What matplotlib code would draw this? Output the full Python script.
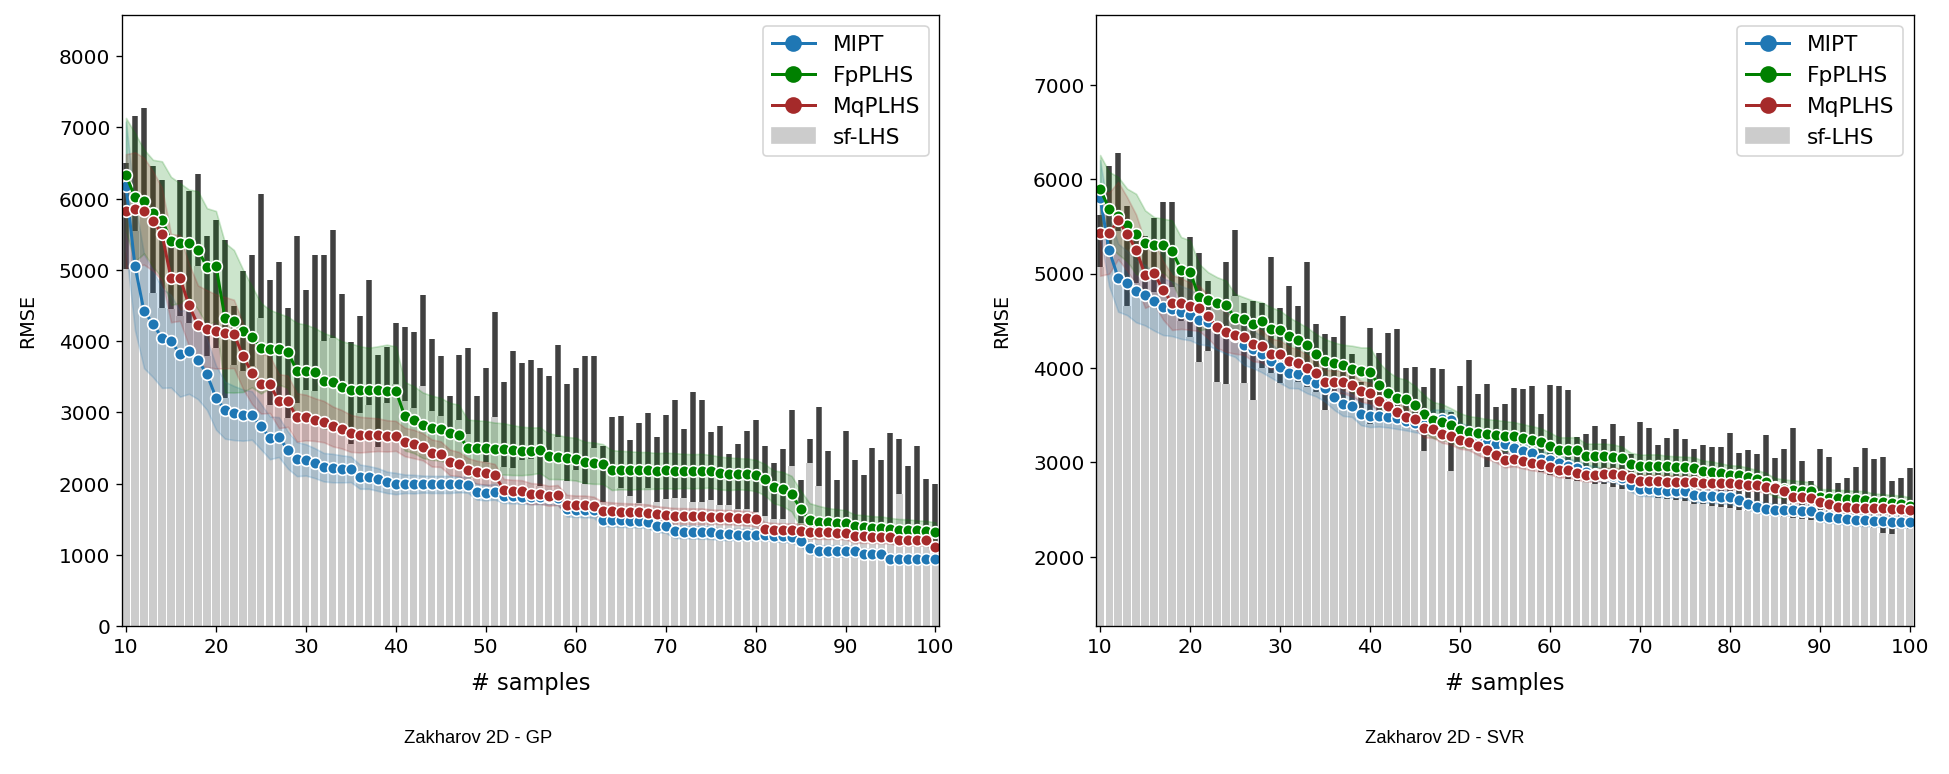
import numpy as np
import matplotlib.pyplot as plt
from matplotlib.lines import Line2D
from matplotlib.patches import Patch

samples = np.arange(10, 101)

# ---------------- Zakharov 2D - GP ----------------
gp_mipt = [6180, 5053, 4423, 4246, 4045, 4000, 3822, 3862, 3737, 3536, 3210, 3033, 2993, 2964, 2958, 2804,
           2644, 2655, 2472, 2346, 2335, 2289, 2232, 2220, 2209, 2203, 2100, 2089, 2060, 2020, 2003,
           2000, 1995, 1995, 1990, 1990, 1990, 1990, 1985, 1888, 1877, 1888, 1830, 1825, 1820, 1815,
           1815, 1810, 1805, 1640, 1635, 1630, 1625, 1495, 1490, 1485, 1480, 1475, 1470, 1410, 1402,
           1330, 1325, 1320, 1318, 1316, 1290, 1288, 1287, 1287, 1287, 1287, 1270, 1260, 1255, 1200,
           1099, 1060, 1058, 1058, 1056, 1055, 1020, 1018, 1015, 945, 944, 944, 944, 944, 944]
gp_fp = [6334, 6020, 5962, 5796, 5705, 5407, 5379, 5379, 5276, 5047, 5058, 4332, 4280, 4148, 4063, 3902,
         3891, 3891, 3845, 3588, 3588, 3571, 3445, 3422, 3359, 3319, 3319, 3319, 3319, 3307, 3307,
         2947, 2901, 2821, 2787, 2764, 2707, 2689, 2500, 2500, 2500, 2489, 2489, 2472, 2460, 2460,
         2472, 2386, 2375, 2357, 2346, 2300, 2289, 2277, 2192, 2192, 2186, 2186, 2186, 2180, 2186,
         2180, 2180, 2175, 2180, 2175, 2150, 2140, 2140, 2135, 2117, 2060, 1957, 1928, 1860, 1648,
         1488, 1470, 1460, 1455, 1450, 1400, 1390, 1385, 1380, 1370, 1355, 1350, 1345, 1340, 1316]
gp_mq = [5825, 5853, 5825, 5688, 5505, 4887, 4887, 4509, 4223, 4177, 4137, 4120, 4103, 3794, 3559, 3405,
         3393, 3159, 3159, 2930, 2930, 2901, 2872, 2804, 2764, 2707, 2689, 2689, 2689, 2672, 2672,
         2586, 2558, 2518, 2432, 2415, 2300, 2277, 2192, 2163, 2146, 2117, 1917, 1905, 1900, 1860,
         1860, 1831, 1842, 1705, 1705, 1705, 1688, 1619, 1619, 1610, 1605, 1600, 1590, 1575, 1562,
         1550, 1548, 1545, 1545, 1540, 1535, 1530, 1525, 1515, 1500, 1362, 1350, 1345, 1345, 1340,
         1320, 1316, 1316, 1315, 1310, 1262, 1260, 1258, 1255, 1250, 1215, 1213, 1212, 1210, 1116]
gp_mipt_ci = [900, 900, 800, 750, 700, 650, 600, 600, 550, 500, 450, 400, 380, 360, 340, 320,
              300, 280, 260, 240, 220, 210, 200, 200, 190, 180, 170, 160, 160, 150, 150,
              130, 130, 120, 120, 120, 120, 110, 110, 110, 110, 110, 100, 100, 100, 100,
              100, 100, 100, 100, 100, 100, 100, 90, 90, 90, 90, 90, 90, 90, 90,
              90, 90, 90, 90, 90, 80, 80, 80, 80, 80, 80, 80, 80, 80, 80,
              80, 80, 80, 80, 80, 70, 70, 70, 70, 70, 70, 70, 70, 70, 70]
gp_fp_ci = [800, 900, 730, 750, 820, 900, 840, 750, 830, 820, 770, 1050, 1000, 860, 710, 635,
            550, 500, 500, 670, 645, 615, 670, 650, 640, 650, 610, 590, 610, 645, 620,
            480, 470, 460, 450, 440, 430, 420, 400, 390, 380, 370, 360, 350, 340, 330,
            320, 320, 310, 300, 300, 290, 290, 280, 280, 270, 270, 260, 260, 250, 250,
            250, 240, 240, 240, 230, 230, 230, 220, 220, 220, 220, 230, 240, 250, 260,
            240, 220, 200, 190, 180, 170, 170, 160, 160, 150, 150, 150, 140, 140, 140]
gp_mq_ci = [800, 800, 750, 700, 650, 620, 600, 580, 560, 540, 520, 500, 480, 460, 440, 420,
            400, 380, 360, 340, 320, 300, 290, 280, 270, 260, 250, 240, 230, 220, 210,
            200, 200, 190, 190, 180, 180, 170, 170, 160, 160, 160, 150, 150, 150, 150,
            140, 140, 140, 140, 130, 130, 130, 130, 120, 120, 120, 120, 120, 110, 110,
            110, 110, 110, 110, 100, 100, 100, 100, 100, 100, 100, 100, 100, 100, 100,
            90, 90, 90, 90, 90, 90, 90, 90, 90, 90, 80, 80, 80, 80, 80]
gp_sf_mean = [5020, 5550, 5850, 4677, 4467, 4450, 4350, 4256, 5052, 3789, 3906, 3200, 3670, 3576, 3650,
              4330, 3101, 3100, 2918, 3134, 3320, 3300, 4000, 4040, 3300, 2563, 2990, 3100, 2518,
              3134, 3400, 3157, 3062, 3366, 3026, 2950, 2700, 2900, 2700, 2450, 2300, 2940, 2232,
              2220, 2329, 2350, 1974, 2300, 2649, 2043, 2192, 1991, 2506, 1745, 2150, 1934, 1831,
              1728, 1934, 1745, 1791, 1800, 1802, 1750, 1750, 1774, 1700, 1700, 1650, 1650, 1600,
              1550, 1500, 1500, 2255, 1450, 2290, 1963, 1400, 1400, 1350, 1350, 1300, 1300, 1300,
              1250, 1860, 1250, 1200, 1200, 1150]
gp_sf_top = [6500, 7160, 7270, 6464, 6268, 5350, 6259, 6104, 6348, 5482, 5707, 5420, 4490, 4980, 5215,
             6060, 4853, 5118, 4460, 5473, 4725, 5210, 5215, 5555, 4665, 3985, 4355, 4855, 3810,
             3915, 4250, 4195, 4125, 4653, 4030, 3795, 3227, 3808, 3903, 3230, 3623, 4413, 3432,
             3860, 3690, 3740, 3622, 3508, 3950, 3402, 3623, 3788, 3788, 2527, 2933, 2946, 2617,
             2848, 2990, 2652, 2960, 3181, 2769, 3284, 3172, 2727, 2807, 2423, 2559, 2736, 2891,
             2526, 2292, 2489, 3041, 2048, 2621, 3078, 2456, 2048, 2735, 2330, 2117, 2505, 2330,
             2706, 2630, 2247, 2528, 2060, 1991]

# ---------------- Zakharov 2D - SVR ----------------
svr_mipt = [5801, 5247, 4957, 4900, 4814, 4771, 4706, 4649, 4628, 4589, 4563, 4511, 4489, 4433, 4381, 4338,
            4242, 4199, 4143, 4078, 4013, 3948, 3935, 3883, 3840, 3784, 3688, 3623, 3602, 3515, 3494,
            3490, 3480, 3465, 3440, 3420, 3400, 3460, 3460, 3450, 3330, 3300, 3250, 3200, 3190, 3190,
            3150, 3120, 3100, 3040, 3020, 2990, 2960, 2940, 2900, 2880, 2870, 2860, 2830, 2760, 2714,
            2714, 2705, 2700, 2695, 2692, 2650, 2645, 2640, 2635, 2628, 2606, 2563, 2528, 2511, 2500,
            2498, 2495, 2490, 2485, 2433, 2420, 2410, 2400, 2390, 2385, 2380, 2375, 2370, 2368, 2368]
svr_fp = [5896, 5688, 5615, 5515, 5420, 5320, 5299, 5299, 5238, 5043, 5022, 4749, 4719, 4693, 4662, 4533,
          4524, 4468, 4498, 4416, 4403, 4338, 4294, 4242, 4143, 4078, 4056, 4035, 3991, 3970, 3957,
          3818, 3732, 3680, 3667, 3610, 3515, 3450, 3429, 3394, 3342, 3320, 3307, 3299, 3290, 3277,
          3277, 3255, 3234, 3212, 3177, 3126, 3126, 3126, 3069, 3069, 3069, 3061, 3048, 2983, 2961,
          2965, 2965, 2960, 2955, 2950, 2945, 2910, 2900, 2890, 2870, 2866, 2845, 2820, 2790, 2736,
          2720, 2710, 2700, 2692, 2628, 2625, 2620, 2615, 2610, 2606, 2580, 2575, 2565, 2560, 2541]
svr_mq = [5428, 5428, 5563, 5420, 5255, 4987, 5009, 4823, 4693, 4684, 4654, 4632, 4546, 4433, 4381, 4351,
          4329, 4251, 4229, 4151, 4143, 4078, 4056, 4000, 3948, 3853, 3853, 3853, 3818, 3753, 3732,
          3645, 3593, 3537, 3480, 3463, 3364, 3351, 3299, 3277, 3234, 3221, 3169, 3126, 3082, 3026,
          3039, 3017, 2996, 2983, 2952, 2922, 2922, 2887, 2866, 2866, 2874, 2874, 2866, 2831, 2801,
          2800, 2798, 2795, 2792, 2790, 2788, 2785, 2783, 2780, 2780, 2775, 2765, 2757, 2736, 2727,
          2701, 2628, 2628, 2625, 2584, 2554, 2528, 2525, 2520, 2518, 2515, 2513, 2511, 2511, 2498]
svr_mipt_ci = [400, 380, 360, 340, 330, 320, 310, 300, 290, 280, 270, 260, 250, 240, 230, 220,
               210, 200, 190, 180, 170, 160, 150, 150, 140, 140, 130, 130, 120, 120, 120,
               110, 110, 110, 100, 100, 100, 100, 100, 100, 90, 90, 90, 90, 90, 90,
               90, 80, 80, 80, 80, 80, 80, 80, 80, 80, 70, 70, 70, 70, 70,
               70, 70, 70, 70, 70, 70, 70, 70, 70, 70, 70, 60, 60, 60, 60,
               60, 60, 60, 60, 60, 60, 60, 60, 60, 60, 60, 60, 60, 60, 60]
svr_fp_ci = [360, 390, 410, 385, 425, 350, 300, 283, 326, 344, 330, 354, 296, 269, 264, 252,
             225, 246, 198, 227, 205, 199, 190, 188, 217, 229, 215, 211, 245, 248, 260,
             240, 230, 220, 210, 200, 200, 190, 190, 180, 180, 170, 170, 160, 160, 160,
             150, 150, 150, 150, 140, 140, 140, 140, 130, 130, 130, 130, 120, 120, 120,
             120, 120, 110, 110, 110, 110, 110, 110, 100, 100, 100, 100, 100, 100, 100,
             100, 100, 100, 100, 90, 90, 90, 90, 90, 90, 90, 90, 90, 90, 90]
svr_mq_ci = [450, 430, 410, 390, 370, 350, 330, 310, 290, 270, 250, 240, 230, 220, 210, 200,
             190, 180, 170, 160, 150, 150, 140, 140, 130, 130, 120, 120, 120, 110, 110,
             110, 100, 100, 100, 100, 100, 90, 90, 90, 90, 90, 90, 90, 80, 80,
             80, 80, 80, 80, 80, 80, 80, 70, 70, 70, 70, 70, 70, 70, 70,
             70, 70, 70, 70, 70, 70, 70, 70, 70, 70, 60, 60, 60, 60, 60,
             60, 60, 60, 60, 60, 60, 60, 60, 60, 60, 60, 60, 60, 60, 60]
svr_sf_mean = [5075, 5300, 5450, 4655, 4900, 4800, 4800, 4855, 4855, 4500, 4330, 4068, 4175, 3852, 3835,
               4762, 3838, 3658, 4000, 3950, 3838, 3900, 3850, 3800, 3750, 3560, 3650, 3600, 3550,
               3500, 3410, 3500, 3550, 3500, 3450, 3400, 3116, 3300, 3300, 2909, 3250, 3200, 3150,
               2952, 3050, 3000, 2980, 2950, 2930, 2900, 2870, 2850, 2820, 2800, 2790, 2770, 2766,
               2740, 2720, 2700, 2650, 2640, 2620, 2610, 2600, 2590, 2560, 2560, 2540, 2530, 2520,
               2500, 2480, 2460, 2450, 2430, 2420, 2410, 2400, 2390, 2370, 2360, 2350, 2340, 2330,
               2320, 2300, 2250, 2240, 2300, 2290]
svr_sf_top = [5617, 6135, 6273, 5712, 5400, 5400, 5590, 5760, 5760, 5050, 5390, 5215, 4920, 4500, 5128,
              5467, 4685, 4710, 4685, 5180, 4640, 4873, 4657, 5125, 4462, 4365, 4333, 4548, 4144,
              3850, 4425, 4163, 4366, 4414, 4003, 4007, 3795, 3999, 3990, 3536, 3804, 4089, 3722,
              3826, 3591, 3623, 3793, 3782, 3810, 3517, 3818, 3810, 3772, 3272, 3300, 3382, 3247,
              3407, 3279, 3092, 3428, 3368, 3184, 3254, 3350, 3244, 3138, 3184, 3166, 3166, 3307,
              3099, 3127, 3092, 3293, 3045, 3141, 3368, 3017, 2800, 3141, 3060, 2779, 2831, 2953,
              3148, 3038, 3060, 2800, 2831, 2943]

series_names = ["MIPT", "FpPLHS", "MqPLHS"]
series_colors = ["#1f77b4", "green", "brown"]

plt.rcParams["font.family"] = "DejaVu Sans"

fig = plt.figure(figsize=(1949.4 / 120, 774.4 / 120), dpi=120)
ax1 = fig.add_axes([0.0626, 0.1908, 0.4193, 0.7889])
ax2 = fig.add_axes([0.5623, 0.1908, 0.4193, 0.7889])


def draw_panel(ax, lines, cis, sf_mean, sf_top, ylim, yticks):
    sf_mean = np.array(sf_mean)
    sf_err = np.array(sf_top) - sf_mean
    # error bars sit behind the bars, so only the upper half shows
    ax.bar(samples, sf_mean, width=0.8, color="#cccccc", zorder=1,
           yerr=sf_err, error_kw=dict(ecolor="#404040", elinewidth=3.3, capsize=0, zorder=0.5))
    for vals, ci, col in zip(lines, cis, series_colors):
        vals = np.array(vals)
        ci = np.array(ci)
        ax.fill_between(samples, vals - ci, vals + ci, color=col, alpha=0.2, lw=1, zorder=1.5)
        ax.plot(samples, vals, color=col, lw=1.8, marker="o", ms=7,
                mec="white", mew=1, zorder=2)
    ax.set_xlim(9.56, 100.44)
    ax.set_ylim(*ylim)
    ax.set_xticks(range(10, 101, 10))
    ax.set_yticks(yticks)
    ax.set_xlabel("# samples", fontsize=13.5, labelpad=9)
    ax.set_ylabel("RMSE", fontsize=11.5, labelpad=13)
    ax.tick_params(labelsize=12)
    handles = [Line2D([0], [0], color=c, lw=1.8, marker="o", ms=9, mec=c, label=n)
               for n, c in zip(series_names, series_colors)]
    handles.append(Patch(color="#cccccc", label="sf-LHS"))
    ax.legend(handles=handles, loc="upper right", fontsize=13)


draw_panel(ax1, [gp_mipt, gp_fp, gp_mq], [gp_mipt_ci, gp_fp_ci, gp_mq_ci],
           gp_sf_mean, gp_sf_top, (0, 8574), range(0, 8001, 1000))
draw_panel(ax2, [svr_mipt, svr_fp, svr_mq], [svr_mipt_ci, svr_fp_ci, svr_mq_ci],
           svr_sf_mean, svr_sf_top, (1264, 7736), range(2000, 7001, 1000))

fig.text(0.2455, 0.0465, "Zakharov 2D - GP", ha="center", va="center",
         family="Liberation Sans", fontsize=11)
fig.text(0.741, 0.0465, "Zakharov 2D - SVR", ha="center", va="center",
         family="Liberation Sans", fontsize=11)

fig.savefig("out.png", dpi=120)
